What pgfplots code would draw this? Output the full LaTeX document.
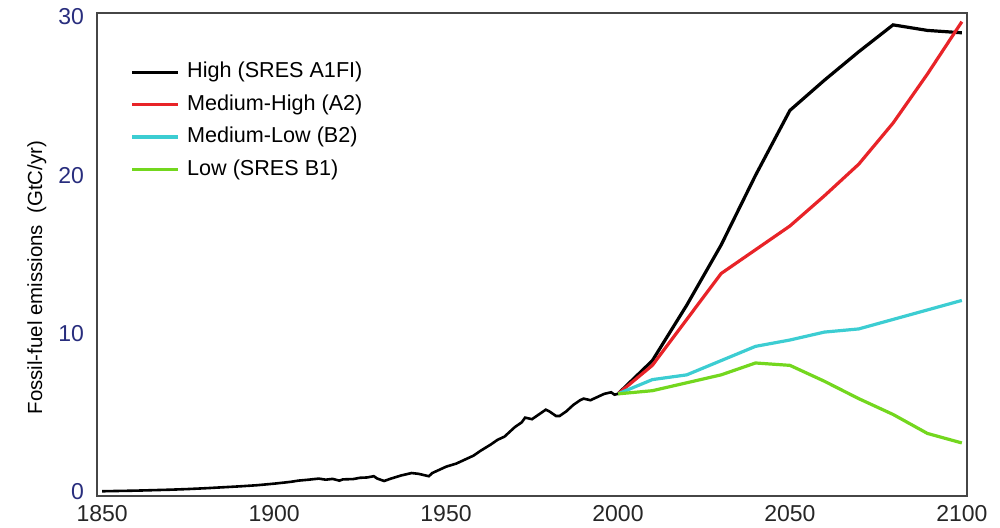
\documentclass[border=0pt]{standalone}
\usepackage{pgfplots}
\pgfplotsset{compat=1.18}
\usepackage{fontspec}
\setmainfont{Liberation Sans}

\definecolor{tickblue}{RGB}{40,45,125}
\definecolor{lred}{RGB}{232,35,40}
\definecolor{lcyan}{RGB}{60,205,210}
\definecolor{lgreen}{RGB}{115,215,30}
\definecolor{boxgray}{RGB}{70,70,70}

\begin{document}
\begin{tikzpicture}
  \begin{axis}[
      at={(0,0)}, anchor=south west,
      scale only axis,
      width=435pt, height=241.5pt,
      xmin=1848.5, xmax=2101.5,
      ymin=-0.25, ymax=30.25,
      xtick={1850,1900,1950,2000,2050,2100},
      ytick={0,10,20,30},
      major tick length=0pt,
      axis line style={boxgray, line width=0.7pt},
      /pgf/number format/assume math mode=true,
      /pgf/number format/1000 sep={},
      xticklabel style={font=\fontsize{11.5}{13}\selectfont, text=black!85, yshift=-1pt},
      yticklabel style={font=\fontsize{11.5}{13}\selectfont, text=tickblue, xshift=-3pt},
      ylabel={Fossil-fuel emissions\ \ (GtC/yr)},
      every axis y label/.style={at={(axis description cs:-0.069,0.452)}, rotate=90, anchor=center, font=\fontsize{10.2}{12}\selectfont},
      legend cell align=left,
      legend image code/.code={\draw[#1] (0cm,0cm) -- (0.8cm,0cm);},
      legend style={draw=none, fill=none, at={(axis description cs:0.038,0.905)}, anchor=north west,
        font=\fontsize{10.8}{13}\selectfont, row sep=3.2pt, inner sep=0pt, column sep=2.5pt,
        nodes={inner sep=1.5pt, text height=7.8pt, text depth=2.2pt}},
    ]

    % scenarios
    \addplot[black, line width=1.6pt] coordinates {
      (2000,6.2) (2010,8.3) (2020,11.8) (2030,15.6) (2040,20.0) (2050,24.1)
      (2060,26.0) (2070,27.8) (2080,29.5) (2090,29.15) (2100,29.0)
    };
    \addlegendentry{High (SRES A1FI)}

    \addplot[lred, line width=1.6pt] coordinates {
      (2000,6.2) (2010,8.0) (2020,10.9) (2030,13.8) (2040,15.3) (2050,16.8)
      (2060,18.7) (2070,20.7) (2080,23.3) (2090,26.4) (2100,29.7)
    };
    \addlegendentry{Medium-High (A2)}

    \addplot[lcyan, line width=1.6pt] coordinates {
      (2000,6.2) (2010,7.1) (2020,7.4) (2030,8.3) (2040,9.2) (2050,9.6)
      (2060,10.1) (2070,10.3) (2080,10.9) (2090,11.5) (2100,12.1)
    };
    \addlegendentry{Medium-Low (B2)}

    \addplot[lgreen, line width=1.6pt] coordinates {
      (2000,6.2) (2010,6.4) (2020,6.9) (2030,7.4) (2040,8.15) (2050,8.0)
      (2060,7.0) (2070,5.9) (2080,4.9) (2090,3.7) (2100,3.1)
    };
    \addlegendentry{Low (SRES B1)}

    % historical emissions
    \addplot[black, line width=1.3pt, forget plot] coordinates {
      (1850,0.05) (1855,0.07) (1860,0.09) (1865,0.12) (1870,0.15) (1875,0.19)
      (1880,0.24) (1885,0.30) (1890,0.36) (1895,0.43) (1900,0.53) (1903,0.60)
      (1905,0.65) (1907,0.72) (1910,0.78) (1913,0.85) (1915,0.78) (1917,0.83)
      (1919,0.72) (1920,0.80) (1923,0.82) (1925,0.90) (1927,0.92) (1929,1.00)
      (1930,0.85) (1932,0.70) (1934,0.85) (1937,1.05) (1940,1.20) (1942,1.15)
      (1945,1.00) (1946,1.20) (1950,1.60) (1953,1.80) (1955,2.00) (1958,2.30)
      (1960,2.60) (1963,3.00) (1965,3.30) (1967,3.50) (1970,4.10) (1972,4.40)
      (1973,4.70) (1975,4.60) (1977,4.90) (1979,5.20) (1980,5.10) (1982,4.80)
      (1983,4.80) (1985,5.10) (1987,5.50) (1989,5.80) (1990,5.90) (1992,5.80)
      (1994,6.00) (1996,6.20) (1998,6.30) (1999,6.15) (2000,6.20)
    };
  \end{axis}
  \pgfresetboundingbox
  \path (-48.5pt,-15.5pt) rectangle (451.5pt,248pt);
\end{tikzpicture}
\end{document}
